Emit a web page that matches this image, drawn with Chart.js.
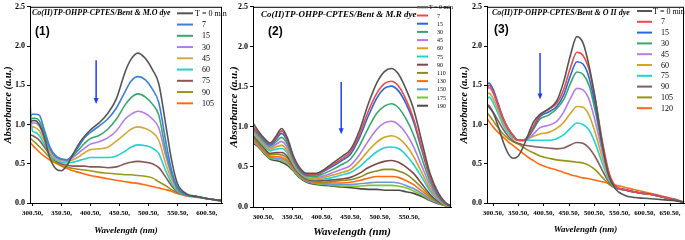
<!DOCTYPE html>
<html lang="en">
<head>
<meta charset="UTF-8">
<title>UV-Vis spectra of dye degradation</title>
<script src="https://cdn.jsdelivr.net/npm/chart.js"></script>
<style>
  body { margin: 0; background: #fff; }
  #wrap { position: relative; width: 685px; height: 240px; }
  canvas { position: absolute; top: 0; }
</style>
</head>
<body>
<div id="wrap">
  <canvas id="c1" width="228" height="240" style="left:0px"></canvas>
  <canvas id="c2" width="227" height="240" style="left:228px"></canvas>
  <canvas id="c3" width="230" height="240" style="left:455px"></canvas>
</div>
<script>
// ---- panel 1 : M.O dye ----
const wl1 = [296, 300, 305, 312, 320, 330, 340, 350, 360, 370, 380, 390, 400, 415, 430, 445, 460, 470, 482, 495, 507, 518, 530, 540, 550, 565, 585, 605, 627];
const times1 = ['T = 0 min', '7', '15', '30', '45', '60', '75', '90', '105'];
const abs1 = [
  [1.02, 1.05, 1.05, 1.0, 0.85, 0.58, 0.44, 0.41, 0.48, 0.62, 0.75, 0.85, 0.93, 1.02, 1.14, 1.33, 1.67, 1.83, 1.91, 1.84, 1.7, 1.52, 1.0, 0.55, 0.25, 0.12, 0.08, 0.05, 0.03],
  [1.1, 1.13, 1.13, 1.12, 0.95, 0.72, 0.6, 0.56, 0.55, 0.62, 0.72, 0.83, 0.9, 0.98, 1.07, 1.21, 1.42, 1.55, 1.61, 1.57, 1.45, 1.28, 0.79, 0.42, 0.2, 0.11, 0.08, 0.05, 0.03],
  [1.06, 1.08, 1.08, 1.05, 0.9, 0.7, 0.6, 0.56, 0.55, 0.6, 0.68, 0.76, 0.82, 0.86, 0.94, 1.07, 1.25, 1.34, 1.39, 1.35, 1.26, 1.12, 0.67, 0.38, 0.18, 0.1, 0.08, 0.05, 0.03],
  [1.0, 1.02, 1.02, 0.98, 0.85, 0.68, 0.58, 0.55, 0.54, 0.58, 0.64, 0.7, 0.75, 0.78, 0.83, 0.92, 1.07, 1.13, 1.17, 1.14, 1.07, 0.96, 0.6, 0.35, 0.17, 0.1, 0.08, 0.05, 0.03],
  [0.95, 0.97, 0.96, 0.92, 0.8, 0.65, 0.57, 0.54, 0.53, 0.55, 0.59, 0.64, 0.68, 0.69, 0.71, 0.79, 0.88, 0.94, 0.97, 0.95, 0.9, 0.8, 0.5, 0.3, 0.16, 0.1, 0.08, 0.05, 0.03],
  [1.3, 0.92, 0.9, 0.86, 0.76, 0.63, 0.55, 0.52, 0.51, 0.52, 0.54, 0.56, 0.58, 0.58, 0.58, 0.6, 0.66, 0.71, 0.74, 0.73, 0.7, 0.63, 0.41, 0.26, 0.15, 0.1, 0.08, 0.05, 0.03],
  [0.87, 0.86, 0.84, 0.8, 0.72, 0.62, 0.54, 0.5, 0.48, 0.47, 0.47, 0.47, 0.46, 0.46, 0.45, 0.46, 0.5, 0.52, 0.53, 0.52, 0.5, 0.45, 0.33, 0.22, 0.14, 0.1, 0.08, 0.05, 0.03],
  [0.83, 0.8, 0.77, 0.72, 0.66, 0.58, 0.52, 0.48, 0.46, 0.44, 0.43, 0.42, 0.41, 0.39, 0.38, 0.37, 0.36, 0.36, 0.35, 0.34, 0.32, 0.27, 0.22, 0.17, 0.13, 0.1, 0.08, 0.05, 0.03],
  [0.78, 0.74, 0.7, 0.65, 0.6, 0.55, 0.51, 0.47, 0.44, 0.41, 0.39, 0.37, 0.35, 0.33, 0.31, 0.29, 0.27, 0.26, 0.25, 0.23, 0.21, 0.19, 0.17, 0.15, 0.12, 0.09, 0.07, 0.05, 0.02]
];
const xTicks1 = [300.5, 350.5, 400.5, 450.5, 500.5, 550.5, 600.5];

// ---- panel 2 : M.R dye ----
const wl2 = [283, 292, 302, 312, 322, 332, 342, 352, 362, 375, 390, 405, 420, 435, 450, 465, 480, 495, 508, 520, 532, 545, 558, 572, 586, 600, 612, 622];
const times2 = ['T = 0 min', '7', '15', '30', '45', '60', '75', '90', '110', '130', '150', '175', '190'];
const abs2 = [
  [1.05, 0.95, 0.86, 0.8, 0.88, 0.98, 0.86, 0.64, 0.5, 0.42, 0.42, 0.47, 0.55, 0.63, 0.72, 0.95, 1.28, 1.55, 1.69, 1.73, 1.66, 1.47, 1.22, 0.82, 0.42, 0.18, 0.06, 0.01],
  [1.0, 0.93, 0.85, 0.79, 0.86, 0.95, 0.84, 0.62, 0.49, 0.41, 0.41, 0.46, 0.53, 0.6, 0.69, 0.9, 1.19, 1.42, 1.54, 1.57, 1.51, 1.34, 1.1, 0.74, 0.38, 0.16, 0.05, 0.01],
  [1.0, 0.92, 0.84, 0.78, 0.84, 0.92, 0.82, 0.61, 0.48, 0.4, 0.4, 0.45, 0.51, 0.58, 0.66, 0.86, 1.13, 1.36, 1.48, 1.51, 1.45, 1.29, 1.06, 0.71, 0.37, 0.15, 0.05, 0.01],
  [0.98, 0.9, 0.82, 0.76, 0.81, 0.87, 0.78, 0.59, 0.46, 0.39, 0.38, 0.42, 0.47, 0.53, 0.6, 0.76, 0.98, 1.17, 1.26, 1.29, 1.24, 1.1, 0.9, 0.61, 0.32, 0.13, 0.04, 0.01],
  [0.96, 0.88, 0.8, 0.74, 0.78, 0.82, 0.74, 0.57, 0.45, 0.38, 0.37, 0.39, 0.43, 0.47, 0.52, 0.65, 0.82, 0.97, 1.05, 1.07, 1.03, 0.92, 0.75, 0.51, 0.27, 0.11, 0.04, 0.01],
  [0.94, 0.86, 0.78, 0.72, 0.75, 0.77, 0.7, 0.55, 0.44, 0.37, 0.35, 0.37, 0.4, 0.43, 0.47, 0.57, 0.7, 0.81, 0.87, 0.89, 0.86, 0.77, 0.63, 0.43, 0.23, 0.1, 0.03, 0.01],
  [0.92, 0.84, 0.76, 0.7, 0.72, 0.73, 0.67, 0.53, 0.43, 0.36, 0.34, 0.35, 0.37, 0.4, 0.43, 0.5, 0.6, 0.69, 0.74, 0.75, 0.73, 0.65, 0.53, 0.37, 0.2, 0.09, 0.03, 0.01],
  [0.9, 0.82, 0.74, 0.67, 0.68, 0.68, 0.63, 0.51, 0.42, 0.35, 0.33, 0.33, 0.34, 0.35, 0.37, 0.42, 0.49, 0.54, 0.57, 0.58, 0.56, 0.5, 0.42, 0.29, 0.16, 0.07, 0.03, 0.01],
  [0.88, 0.8, 0.72, 0.65, 0.66, 0.65, 0.61, 0.5, 0.41, 0.34, 0.32, 0.31, 0.32, 0.33, 0.34, 0.37, 0.42, 0.45, 0.47, 0.47, 0.45, 0.41, 0.34, 0.24, 0.14, 0.06, 0.02, 0.01],
  [0.86, 0.78, 0.7, 0.63, 0.63, 0.62, 0.58, 0.48, 0.4, 0.33, 0.31, 0.3, 0.3, 0.3, 0.31, 0.33, 0.36, 0.38, 0.38, 0.38, 0.37, 0.33, 0.28, 0.2, 0.12, 0.06, 0.02, 0.01],
  [0.84, 0.77, 0.69, 0.62, 0.61, 0.6, 0.56, 0.47, 0.39, 0.32, 0.3, 0.29, 0.28, 0.28, 0.28, 0.29, 0.3, 0.31, 0.31, 0.31, 0.3, 0.27, 0.23, 0.17, 0.1, 0.05, 0.02, 0.01],
  [0.82, 0.76, 0.68, 0.61, 0.6, 0.58, 0.54, 0.46, 0.38, 0.32, 0.29, 0.28, 0.27, 0.26, 0.26, 0.26, 0.27, 0.27, 0.27, 0.27, 0.26, 0.24, 0.2, 0.15, 0.09, 0.05, 0.02, 0.01],
  [0.8, 0.75, 0.67, 0.6, 0.58, 0.56, 0.52, 0.45, 0.37, 0.31, 0.28, 0.27, 0.26, 0.25, 0.24, 0.23, 0.22, 0.22, 0.21, 0.21, 0.21, 0.19, 0.17, 0.13, 0.08, 0.04, 0.02, 0.01]
];
const xTicks2 = [300.5, 350.5, 400.5, 450.5, 500.5, 550.5];

// ---- panel 3 : O II dye ----
const wl3 = [288, 292, 300, 310, 320, 330, 340, 350, 360, 370, 380, 393, 410, 426, 440, 453, 466, 478, 490, 503, 516, 529, 542, 560, 580, 600, 620, 640, 660, 678];
const times3 = ['T = 0 min', '7', '15', '30', '45', '60', '75', '90', '105', '120'];
const abs3 = [
  [1.25, 1.22, 1.15, 0.98, 0.78, 0.63, 0.57, 0.6, 0.72, 0.88, 1.03, 1.13, 1.2, 1.3, 1.55, 1.88, 2.12, 2.04, 1.75, 1.3, 0.75, 0.35, 0.18, 0.1, 0.07, 0.06, 0.05, 0.04, 0.03, 0.01],
  [1.46, 1.5, 1.42, 1.25, 1.08, 0.95, 0.86, 0.8, 0.8, 0.86, 0.98, 1.12, 1.19, 1.27, 1.45, 1.72, 1.92, 1.88, 1.7, 1.3, 0.8, 0.4, 0.22, 0.17, 0.14, 0.12, 0.1, 0.07, 0.04, 0.01],
  [1.52, 1.53, 1.45, 1.27, 1.08, 0.95, 0.86, 0.8, 0.8, 0.85, 0.96, 1.1, 1.16, 1.23, 1.38, 1.62, 1.8, 1.77, 1.6, 1.22, 0.76, 0.38, 0.21, 0.17, 0.14, 0.12, 0.1, 0.07, 0.04, 0.01],
  [1.48, 1.5, 1.43, 1.25, 1.07, 0.94, 0.85, 0.8, 0.8, 0.84, 0.94, 1.07, 1.12, 1.2, 1.32, 1.52, 1.67, 1.64, 1.5, 1.15, 0.72, 0.36, 0.21, 0.17, 0.14, 0.12, 0.1, 0.07, 0.04, 0.01],
  [1.45, 1.47, 1.4, 1.22, 1.05, 0.93, 0.84, 0.8, 0.79, 0.82, 0.88, 0.96, 0.99, 1.04, 1.16, 1.33, 1.46, 1.44, 1.32, 1.02, 0.66, 0.34, 0.2, 0.17, 0.14, 0.12, 0.1, 0.07, 0.04, 0.01],
  [1.38, 1.4, 1.33, 1.18, 1.02, 0.91, 0.83, 0.8, 0.8, 0.82, 0.85, 0.88, 0.9, 0.95, 1.03, 1.14, 1.23, 1.22, 1.12, 0.88, 0.58, 0.32, 0.2, 0.17, 0.14, 0.12, 0.1, 0.07, 0.04, 0.01],
  [1.32, 1.35, 1.28, 1.14, 0.99, 0.89, 0.82, 0.8, 0.8, 0.8, 0.8, 0.8, 0.8, 0.82, 0.87, 0.95, 1.02, 1.0, 0.93, 0.75, 0.51, 0.3, 0.19, 0.17, 0.14, 0.12, 0.1, 0.07, 0.04, 0.01],
  [1.25, 1.24, 1.16, 1.05, 0.94, 0.85, 0.79, 0.76, 0.74, 0.73, 0.72, 0.71, 0.7, 0.69, 0.7, 0.74, 0.77, 0.76, 0.7, 0.58, 0.42, 0.27, 0.19, 0.17, 0.14, 0.12, 0.1, 0.07, 0.04, 0.01],
  [1.15, 1.12, 1.05, 0.96, 0.88, 0.82, 0.78, 0.75, 0.71, 0.67, 0.64, 0.6, 0.57, 0.55, 0.54, 0.53, 0.52, 0.51, 0.48, 0.42, 0.33, 0.24, 0.19, 0.17, 0.14, 0.12, 0.1, 0.07, 0.04, 0.01],
  [1.08, 1.04, 0.97, 0.9, 0.84, 0.78, 0.73, 0.68, 0.63, 0.58, 0.54, 0.49, 0.45, 0.42, 0.39, 0.36, 0.34, 0.32, 0.31, 0.29, 0.27, 0.25, 0.23, 0.2, 0.17, 0.14, 0.11, 0.08, 0.05, 0.01]
];
const xTicks3 = [300.5, 350.5, 400.5, 450.5, 500.5, 550.5, 600.5, 650.5];

// line colours
const colors1 = ['#555555', '#3b7fdc', '#3aa56c', '#b57de8', '#d6a93a', '#22d0d0', '#8a5656', '#979718', '#ff6a12'];
const colors2 = ['#555555', '#f04848', '#2a68d8', '#3aa56c', '#b27ae6', '#d3a020', '#22d0d0', '#7d4848', '#8c8c1c', '#ff6a12', '#6a9ad6', '#7cc236', '#4a4a4a'];
const colors3 = ['#555555', '#f04848', '#2a6ad8', '#3aa56c', '#b57de8', '#d6a42a', '#22d3d3', '#8a5a5a', '#949418', '#ff6a12'];

const serif = '"Liberation Serif", "Times New Roman", serif';

// frame, panel title, legend and arrow
const deco = {
  id: 'deco',
  afterDatasetsDraw(chart, args, o) {
    const { ctx, chartArea: a, scales: { x, y } } = chart;
    ctx.save();
    ctx.strokeStyle = '#000';
    ctx.lineWidth = 1;
    ctx.strokeRect(a.left + 0.5, a.top + 0.5, a.right - a.left - 1, a.bottom - a.top);

    ctx.fillStyle = '#000';
    ctx.textBaseline = 'middle';
    ctx.textAlign = 'left';
    ctx.font = 'italic bold ' + o.titleSize + 'px ' + serif;
    ctx.fillText(o.title, o.titleX, o.titleY);
    ctx.font = 'bold ' + o.tagSize + 'px "Liberation Sans", Arial, sans-serif';
    ctx.fillText(o.tag, o.tagX, o.tagY);

    ctx.font = o.legSize + 'px ' + serif;
    chart.data.datasets.forEach((ds, i) => {
      const yy = o.legY + i * o.legStep;
      ctx.strokeStyle = ds.borderColor;
      ctx.lineWidth = 2;
      ctx.beginPath();
      ctx.moveTo(o.legX0, yy);
      ctx.lineTo(o.legX1, yy);
      ctx.stroke();
      ctx.fillText(ds.label, i === 0 ? o.legTX : o.legNX, yy + 0.5);
    });

    // blue arrow pointing down
    const ax = x.getPixelForValue(o.arrow[0]);
    const ay0 = y.getPixelForValue(o.arrow[1]);
    const ay1 = y.getPixelForValue(o.arrow[2]);
    ctx.strokeStyle = '#1f3cff';
    ctx.fillStyle = '#1f3cff';
    ctx.lineWidth = 1.5;
    ctx.beginPath();
    ctx.moveTo(ax, ay0);
    ctx.lineTo(ax, ay1 - 5);
    ctx.stroke();
    ctx.beginPath();
    ctx.moveTo(ax - 2.5, ay1 - 6);
    ctx.lineTo(ax + 2.5, ay1 - 6);
    ctx.lineTo(ax, ay1);
    ctx.closePath();
    ctx.fill();
    ctx.restore();
  }
};

function makePanel(id, wl, times, abs, colors, xTicks, p) {
  const datasets = abs.map((vals, i) => ({
    label: times[i],
    data: vals.map((v, j) => ({ x: wl[j], y: v })),
    borderColor: colors[i],
    borderWidth: 1.6,
    pointRadius: 0,
    fill: false,
    cubicInterpolationMode: 'monotone'
  }));
  const tickFont = { family: serif, weight: 'bold', size: 7 };
  return new Chart(document.getElementById(id), {
    type: 'line',
    data: { datasets },
    options: {
      responsive: false,
      animation: false,
      events: [],
      layout: { padding: { top: 4, right: p.padRight, left: 0, bottom: 0 } },
      plugins: {
        legend: { display: false },
        tooltip: { enabled: false },
        deco: p.deco
      },
      scales: {
        x: {
          type: 'linear',
          min: p.xMin,
          max: p.xMax,
          afterBuildTicks: s => { s.ticks = xTicks.map(v => ({ value: v })); },
          afterFit: s => { s.height = p.xHeight; },
          grid: { drawOnChartArea: false, drawTicks: true, tickLength: 3, color: '#000' },
          border: { color: '#000', width: 1 },
          ticks: {
            color: '#000', font: tickFont, padding: 3, autoSkip: false, maxRotation: 0,
            callback: v => v.toFixed(2) + ','
          },
          title: {
            display: true, text: 'Wavelength (nm)', color: '#000',
            font: { family: serif, style: 'italic', weight: 'bold', size: p.xTitleSize },
            padding: { top: 0, bottom: p.xTitlePad }
          }
        },
        y: {
          min: 0,
          max: 2.5,
          afterFit: s => { s.width = p.yWidth; },
          grid: { drawOnChartArea: false, drawTicks: true, tickLength: 3, color: '#000' },
          border: { color: '#000', width: 1 },
          ticks: {
            color: '#000', font: { family: serif, weight: 'bold', size: 8 }, padding: 2, stepSize: 0.5,
            callback: v => v.toFixed(1)
          },
          title: {
            display: true, text: 'Absorbance (a.u.)', color: '#000',
            font: { family: serif, style: 'italic', weight: 'bold', size: p.yTitleSize },
            padding: { top: p.yTitlePad, bottom: 0 }
          }
        }
      }
    },
    plugins: [deco]
  });
}

makePanel('c1', wl1, times1, abs1, colors1, xTicks1, {
  xMin: 296, xMax: 627, padRight: 6, xHeight: 37, yWidth: 30,
  xTitleSize: 9, xTitlePad: 4, yTitleSize: 10.5, yTitlePad: 1.5,
  deco: {
    title: 'Co(II)TP-OHPP-CPTES/Bent & M.O dye', titleSize: 8, titleX: 32, titleY: 13,
    tag: '(1)', tagSize: 12, tagX: 35, tagY: 32,
    legSize: 8, legX0: 177, legX1: 193, legTX: 195, legNX: 202, legY: 13.3, legStep: 11.25,
    arrow: [410, 1.82, 1.26]
  }
});

makePanel('c2', wl2, times2, abs2, colors2, xTicks2, {
  xMin: 283, xMax: 622, padRight: 4, xHeight: 33, yWidth: 25,
  xTitleSize: 11, xTitlePad: 1.5, yTitleSize: 11, yTitlePad: 0,
  deco: {
    title: 'Co(II)TP-OHPP-CPTES/Bent & M.R dye', titleSize: 9, titleX: 33, titleY: 15,
    tag: '(2)', tagSize: 12, tagX: 40, tagY: 32,
    legSize: 6, legX0: 189, legX1: 200, legTX: 201, legNX: 209, legY: 7.3, legStep: 8.2,
    arrow: [434, 1.56, 0.91]
  }
});

makePanel('c3', wl3, times3, abs3, colors3, xTicks3, {
  xMin: 288, xMax: 678, padRight: 1, xHeight: 37, yWidth: 32,
  xTitleSize: 9, xTitlePad: 4.5, yTitleSize: 10.5, yTitlePad: 2.5,
  deco: {
    title: 'Co(II)TP-OHPP-CPTES/Bent & O II dye', titleSize: 8, titleX: 37, titleY: 13,
    tag: '(3)', tagSize: 12, tagX: 39, tagY: 30,
    legSize: 8, legX0: 182, legX1: 197, legTX: 198, legNX: 206, legY: 11, legStep: 10.8,
    arrow: [393, 1.91, 1.32]
  }
});
</script>
</body>
</html>
